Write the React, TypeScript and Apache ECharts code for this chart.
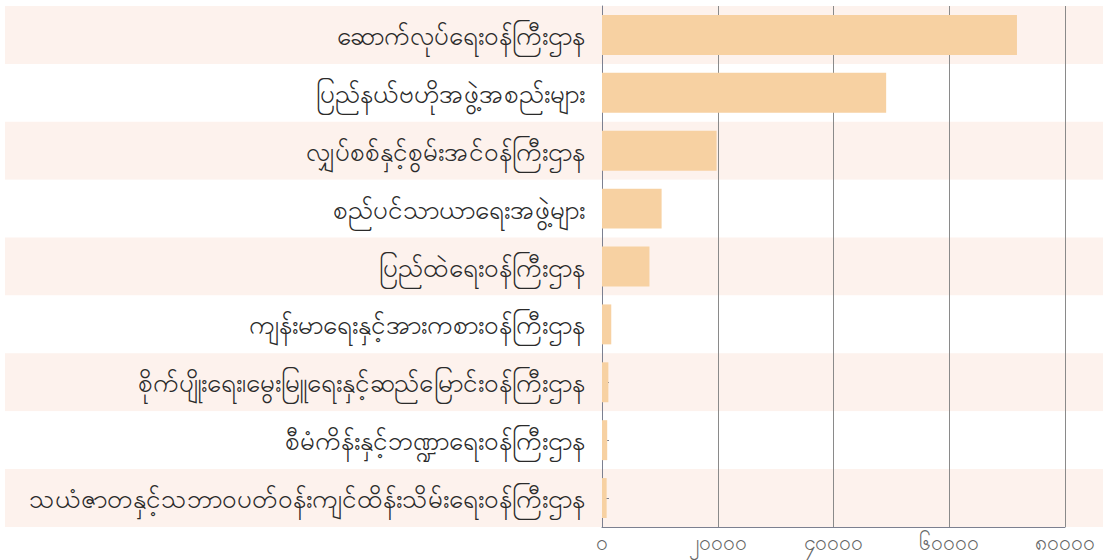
import React, { useEffect, useRef } from "react";
import * as echarts from "echarts";

const categories = [
  "ဆောက်လုပ်ရေးဝန်ကြီးဌာန",
  "ပြည်နယ်ဗဟိုအဖွဲ့အစည်းများ",
  "လျှပ်စစ်နှင့်စွမ်းအင်ဝန်ကြီးဌာန",
  "စည်ပင်သာယာရေးအဖွဲ့များ",
  "ပြည်ထဲရေးဝန်ကြီးဌာန",
  "ကျန်းမာရေးနှင့်အားကစားဝန်ကြီးဌာန",
  "စိုက်ပျိုးရေး၊မွေးမြူရေးနှင့်ဆည်မြောင်းဝန်ကြီးဌာန",
  "စီမံကိန်းနှင့်ဘဏ္ဍာရေးဝန်ကြီးဌာန",
  "သယံဇာတနှင့်သဘာဝပတ်ဝန်းကျင်ထိန်းသိမ်းရေးဝန်ကြီးဌာန",
];

const values = [71700, 49100, 19800, 10300, 8200, 1600, 1100, 900, 800];

const xTickValues = [0, 20000, 40000, 60000, 80000];
const xTickLabels = ["၀", "၂၀၀၀၀", "၄၀၀၀၀", "၆၀၀၀၀", "၈၀၀၀၀"];

const FONT = "'Noto Sans', 'DejaVu Sans', sans-serif";

export default function App() {
  const ref = useRef<HTMLDivElement>(null);

  useEffect(() => {
    if (!ref.current) return;
    const chart = echarts.init(ref.current, undefined, { renderer: "svg" });
    chart.setOption({
      animation: false,
      backgroundColor: "#ffffff",
      grid: [
        { left: 602, right: 38, top: 6, bottom: 33 },
        { left: 5, right: 0, top: 6, bottom: 33 },
      ],
      xAxis: [
        {
          gridIndex: 0,
          type: "value",
          min: 0,
          max: 80000,
          interval: 20000,
          z: 2,
          axisLine: { show: true, lineStyle: { color: "#7c8090", width: 1 } },
          axisTick: { show: false },
          splitLine: { show: true, lineStyle: { color: "#8a8a8a", width: 1 } },
          axisLabel: {
            color: "#666666",
            fontSize: 21,
            lineHeight: 22,
            fontFamily: FONT,
            margin: 4,
            verticalAlign: "top",
            formatter: (v: number) => {
              const i = xTickValues.indexOf(v);
              return i >= 0 ? xTickLabels[i] : "";
            },
          },
        },
        {
          gridIndex: 1,
          type: "value",
          min: 0,
          max: 1,
          show: false,
        },
      ],
      yAxis: [
        {
          gridIndex: 0,
          type: "category",
          data: categories,
          inverse: true,
          z: 2,
          axisLine: { show: true, lineStyle: { color: "#7c8090", width: 1 } },
          axisTick: {
            show: true,
            inside: true,
            alignWithLabel: true,
            length: 7,
            lineStyle: { color: "#7c8090" },
          },
          splitLine: { show: false },
          splitArea: { show: false },
          axisLabel: {
            color: "#2a2a2a",
            fontSize: 26,
            fontFamily: FONT,
            margin: 17,
          },
        },
        {
          gridIndex: 1,
          type: "category",
          data: categories,
          inverse: true,
          z: 0,
          axisLine: { show: false },
          axisTick: { show: false },
          axisLabel: { show: false },
          splitLine: { show: false },
          splitArea: {
            show: true,
            areaStyle: { color: ["#fdf2ed", "#ffffff"] },
          },
        },
      ],
      series: [
        {
          type: "bar",
          xAxisIndex: 0,
          yAxisIndex: 0,
          data: values,
          barCategoryGap: "31%",
          z: 3,
          itemStyle: { color: "#f7d1a2" },
        },
      ],
    });
    return () => chart.dispose();
  }, []);

  return (
    <div
      ref={ref}
      style={{ position: "fixed", left: 0, top: 0, width: 1103, height: 560 }}
    />
  );
}
